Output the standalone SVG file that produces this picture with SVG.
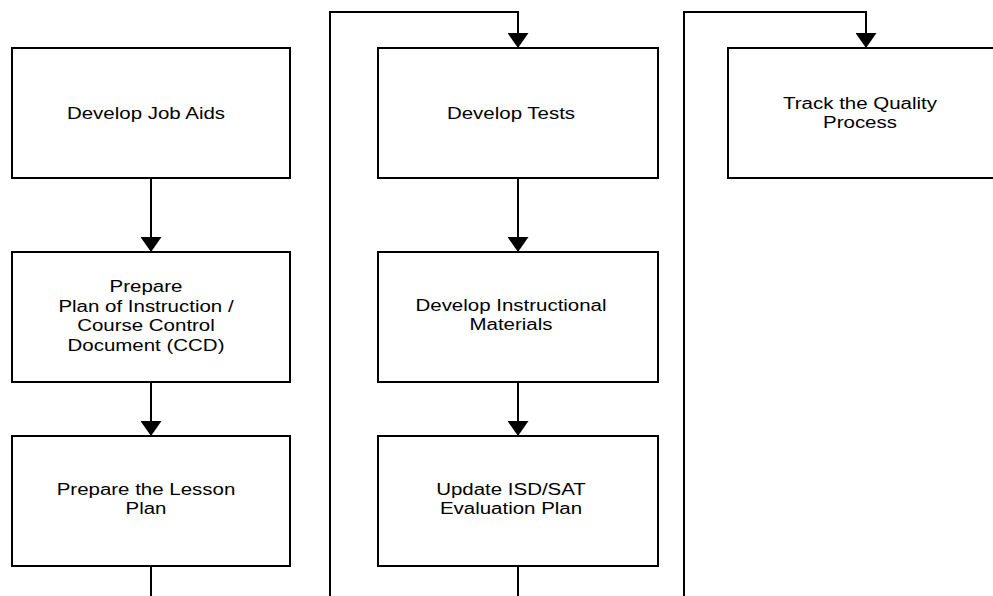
<svg xmlns="http://www.w3.org/2000/svg" width="993" height="596" viewBox="0 0 993 596">
  <style>
    .box { fill: #ffffff; stroke: #000000; stroke-width: 2; }
    .conn { fill: none; stroke: #000000; stroke-width: 2; }
    .lbl { font-family: "Liberation Sans", Arial, sans-serif; font-size: 16px; fill: #000000; text-anchor: middle; }
  </style>
  <defs>
    <marker id="arrow" viewBox="0 0 15 21" refX="15" refY="10.5" markerWidth="15" markerHeight="21" markerUnits="userSpaceOnUse" orient="auto">
      <path d="M0,0 L15,10.5 L0,21 Z" fill="#000000"/>
    </marker>
  </defs>
  <rect x="0" y="0" width="993" height="596" fill="#ffffff"/>

  <g id="connectors">
    <line class="conn" x1="151" y1="178" x2="151" y2="252" marker-end="url(#arrow)"/>
    <line class="conn" x1="151" y1="382" x2="151" y2="436" marker-end="url(#arrow)"/>
    <line class="conn" x1="151" y1="566" x2="151" y2="600"/>
    <polyline class="conn" points="330,600 330,12 518,12 518,48" marker-end="url(#arrow)"/>
    <line class="conn" x1="518" y1="178" x2="518" y2="252" marker-end="url(#arrow)"/>
    <line class="conn" x1="518" y1="382" x2="518" y2="436" marker-end="url(#arrow)"/>
    <line class="conn" x1="518" y1="566" x2="518" y2="600"/>
    <polyline class="conn" points="684,600 684,12 866,12 866,48" marker-end="url(#arrow)"/>
  </g>

  <g id="develop-job-aids">
    <rect class="box" x="12" y="48" width="278" height="130"/>
    <g transform="translate(146 0) scale(1.28 1)">
      <text class="lbl" x="0" y="119">Develop Job Aids</text>
    </g>
  </g>

  <g id="prepare-poi-ccd">
    <rect class="box" x="12" y="252" width="278" height="130"/>
    <g transform="translate(146 0) scale(1.28 1)">
      <text class="lbl" x="0" y="292.3">Prepare</text>
      <text class="lbl" x="0" y="311.8">Plan of Instruction /</text>
      <text class="lbl" x="0" y="331.3">Course Control</text>
      <text class="lbl" x="0" y="350.8">Document (CCD)</text>
    </g>
  </g>

  <g id="prepare-lesson-plan">
    <rect class="box" x="12" y="436" width="278" height="130"/>
    <g transform="translate(146 0) scale(1.28 1)">
      <text class="lbl" x="0" y="495.5">Prepare the Lesson</text>
      <text class="lbl" x="0" y="514.5">Plan</text>
    </g>
  </g>

  <g id="develop-tests">
    <rect class="box" x="378" y="48" width="280" height="130"/>
    <g transform="translate(511 0) scale(1.28 1)">
      <text class="lbl" x="0" y="119">Develop Tests</text>
    </g>
  </g>

  <g id="develop-instructional-materials">
    <rect class="box" x="378" y="252" width="280" height="130"/>
    <g transform="translate(511 0) scale(1.28 1)">
      <text class="lbl" x="0" y="311.5">Develop Instructional</text>
      <text class="lbl" x="0" y="330.5">Materials</text>
    </g>
  </g>

  <g id="update-evaluation-plan">
    <rect class="box" x="378" y="436" width="280" height="130"/>
    <g transform="translate(511 0) scale(1.28 1)">
      <text class="lbl" x="0" y="495.5">Update ISD/SAT</text>
      <text class="lbl" x="0" y="514.5">Evaluation Plan</text>
    </g>
  </g>

  <g id="track-quality-process">
    <rect class="box" x="728" y="48" width="280" height="130"/>
    <g transform="translate(860 0) scale(1.28 1)">
      <text class="lbl" x="0" y="109">Track the Quality</text>
      <text class="lbl" x="0" y="128.5">Process</text>
    </g>
  </g>
</svg>
